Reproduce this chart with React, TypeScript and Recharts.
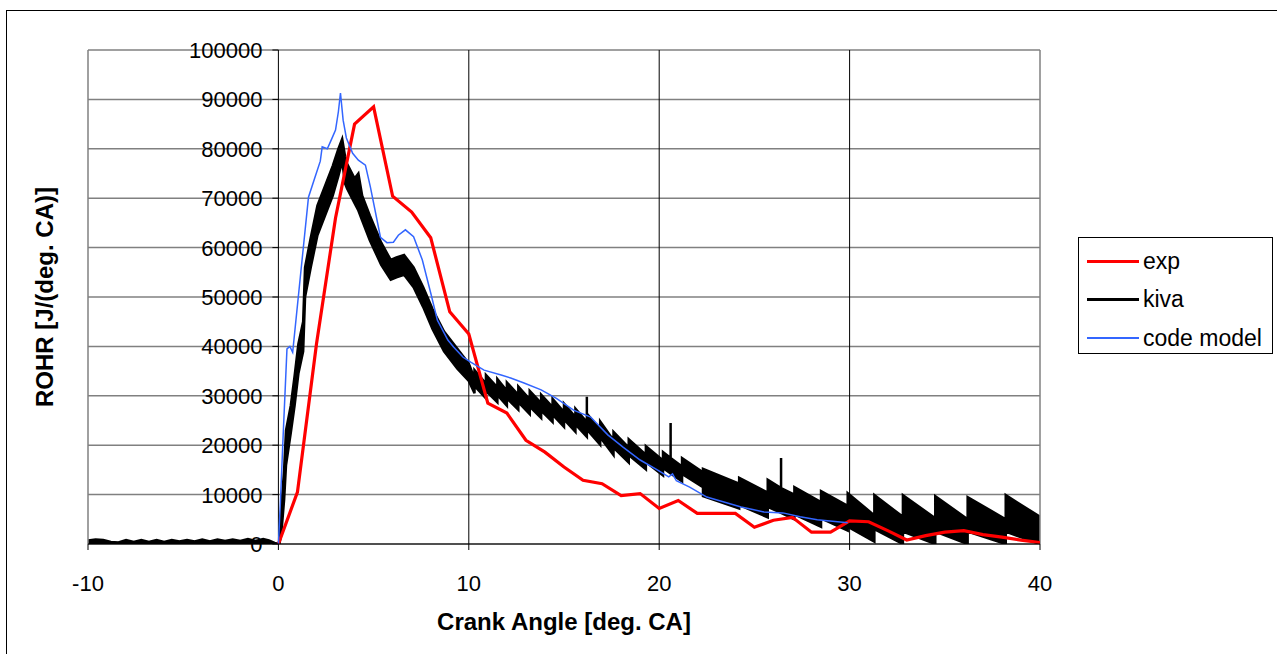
import { ComposedChart, Line, Area, XAxis, YAxis, CartesianGrid, ReferenceLine, Label } from 'recharts';

// crank angle ticks and ROHR ticks
const angleTicks = [-10, 0, 10, 20, 30, 40];
const rohrTicks = [0, 10000, 20000, 30000, 40000, 50000, 60000, 70000, 80000, 90000, 100000];

// exp: one point per degree CA
const expAngle = [
  0, 1, 2, 3, 4, 5, 6, 7, 8, 9, 10, 11, 12, 13, 14, 15, 16, 17, 18, 19, 20,
  21, 22, 23, 24, 25, 26, 27, 28, 29, 30, 31, 32, 33, 34, 35, 36, 37, 38, 39, 40,
];
const expRohr = [
  0, 10500, 40500, 66000, 85000, 88500, 70400, 67200, 62000, 47000, 42500,
  28500, 26500, 21000, 18600, 15600, 12900, 12200, 9800, 10200, 7200,
  8800, 6200, 6200, 6200, 3400, 4800, 5400, 2400, 2400, 4700,
  4500, 2700, 800, 1700, 2400, 2700, 1900, 1400, 800, 300,
];

// code model: [angle, rohr]
const modelPoints: [number, number][] = [
  [0, 0], [0.1, 8000], [0.25, 22000], [0.45, 39500], [0.6, 40000], [0.75, 38800],
  [1.15, 54000], [1.58, 70200], [1.9, 74000], [2.2, 77500], [2.3, 80400], [2.57, 80000],
  [2.8, 82000], [3.0, 83800], [3.15, 87500], [3.26, 91300], [3.4, 85800], [3.57, 82200],
  [3.9, 79100], [4.2, 77700], [4.57, 76700], [4.83, 72300], [5.36, 62100], [5.7, 61000],
  [6.04, 61100], [6.3, 62500], [6.67, 63600], [7.1, 62200], [7.56, 57500], [8.0, 50800],
  [8.35, 45300], [8.9, 41300], [9.2, 39900], [9.7, 37800], [10.1, 36800], [10.8, 35200],
  [11.7, 34200], [12.2, 33600], [12.9, 32600], [13.8, 31200], [14.6, 29500], [15.5, 27100],
  [16.4, 25700], [17.3, 22100], [18.1, 19600], [19.0, 17000], [19.9, 15000], [20.5, 13600],
  [20.7, 14200], [20.9, 12800], [21.6, 11500], [22.5, 9500], [23.4, 8500], [24.3, 7500],
  [25.5, 6500], [26.5, 6300], [27.4, 5500], [28.3, 4900], [29.9, 4300],
];

// kiva: noisy trace, kept as [angle, low, high] band
const kivaBand: [number, number, number][] = [
  [-10, 0, 700], [-9.6, 0, 900], [-9.2, 0, 800], [-8.8, 0, 400], [-8.4, 0, 300],
  [-8.0, 0, 800], [-7.6, 0, 400], [-7.2, 0, 800], [-6.8, 0, 400], [-6.4, 0, 800],
  [-6.0, 0, 400], [-5.6, 0, 800], [-5.2, 0, 500], [-4.8, 0, 800], [-4.4, 0, 500],
  [-4.0, 0, 900], [-3.6, 0, 500], [-3.2, 0, 900], [-2.8, 0, 600], [-2.4, 0, 900],
  [-2.0, 0, 600], [-1.6, 0, 1000], [-1.2, 0, 600], [-0.8, 0, 1000], [-0.5, 0, 700],
  [-0.2, 0, 200], [0, 0, 0],
  [0.05, 0, 0], [0.15, 2000, 7000], [0.3, 9000, 15000], [0.4, 16000, 23000],
  [0.65, 22500, 28000], [0.85, 28000, 34000], [1.05, 34500, 40500], [1.3, 39000, 45000],
  [1.4, 50000, 56000], [1.7, 56000, 62000], [2.05, 62500, 68500], [2.5, 67000, 73000],
  [2.85, 70500, 76500], [3.15, 74500, 80000], [3.35, 77500, 82000], [3.5, 73000, 78500],
  [3.6, 72000, 77000], [4.0, 69000, 74000], [4.2, 67500, 75000], [4.4, 65500, 70500],
  [4.8, 61500, 66500], [5.4, 56500, 61000], [5.9, 53500, 57500], [6.2, 54000, 58000],
  [6.6, 54500, 58500], [7.1, 52000, 56000], [7.6, 48000, 52000], [8.1, 43500, 47500],
  [8.7, 39000, 43000], [9.4, 35500, 39500], [10.0, 33000, 36500],
  [10.3, 30500, 33500], [10.3, 32000, 35200],
  [10.9, 29500, 32500], [10.9, 31000, 34200],
  [11.5, 28700, 31700], [11.5, 30200, 33400],
  [12.0, 28000, 31000], [12.0, 29500, 32700],
  [12.6, 27200, 30200], [12.6, 28700, 31900],
  [13.2, 26300, 29300], [13.2, 27800, 31000],
  [13.8, 25500, 28500], [13.8, 27000, 30200],
  [14.4, 24700, 27700], [14.4, 26200, 29400],
  [15.0, 23700, 26700], [15.0, 25200, 28400],
  [15.6, 22700, 25700], [15.6, 24200, 27400],
  [16.2, 21700, 24700], [16.2, 21700, 29800], [16.2, 23200, 26400],
  [16.9, 20100, 23100], [16.9, 21600, 24800],
  [17.6, 18000, 21000], [17.6, 19500, 22700],
  [18.4, 16500, 19500], [18.4, 18000, 21200],
  [19.3, 15100, 18100], [19.3, 16600, 19800],
  [20.2, 13900, 16900], [20.2, 15400, 18600],
  [20.6, 14300, 17400], [20.6, 14300, 24500], [20.6, 14300, 17400],
  [21.2, 12700, 15700], [21.2, 14200, 17400],
  [22.3, 11500, 14500], [22.3, 9700, 15200],
  [24.2, 7200, 12200], [24.2, 7900, 13400],
  [25.7, 5400, 10400], [25.7, 7500, 13000],
  [26.4, 6300, 11300], [26.4, 6300, 17400], [26.4, 6300, 11300],
  [27.1, 5000, 10000], [27.1, 6000, 11500],
  [28.5, 3500, 8500], [28.5, 5200, 10700],
  [29.9, 2700, 7700], [29.9, 3500, 10300],
  [31.3, 500, 5800], [31.3, 3000, 9900],
  [32.8, 0, 5500], [32.8, 2500, 9900],
  [34.5, 0, 5200], [34.5, 2500, 9700],
  [36.2, 0, 5000], [36.2, 2500, 9500],
  [38.2, 0, 5000], [38.2, 2500, 9900],
  [40, 0, 5500],
];

const series = [
  { name: 'exp', color: '#ff0000', width: 3 },
  { name: 'kiva', color: '#000000', width: 3 },
  { name: 'code model', color: '#3366ff', width: 1.5 },
];

const expData = expAngle.map((x, i) => ({ x, rohr: expRohr[i] }));
const modelData = modelPoints.map(([x, rohr]) => ({ x, rohr }));
const kivaData = kivaBand.map(([x, lo, hi]) => ({ x, band: [lo, hi] }));

const W = 1277;
const H = 654;
const PLOT_LEFT = 88;
const PLOT_RIGHT = 1040;
const PLOT_TOP = 50;
const PLOT_BOTTOM = 544;
const X_AXIS_H = 100;
// the value axis crosses at 0 deg CA
const AXIS_X = PLOT_LEFT + ((PLOT_RIGHT - PLOT_LEFT) * (0 - angleTicks[0])) / (angleTicks[angleTicks.length - 1] - angleTicks[0]);

const YTick = ({ y, payload }: any) => (
  <g>
    <line x1={AXIS_X - 6} x2={AXIS_X} y1={y} y2={y} stroke="#000" />
    <text x={AXIS_X - 16} y={y} dy="0.36em" textAnchor="end" fontSize={22} fill="#000">
      {payload.value}
    </text>
  </g>
);

export default function App() {
  return (
    <div
      style={{
        position: 'fixed',
        left: 0,
        top: 0,
        width: W,
        height: H,
        overflow: 'hidden',
        background: '#fff',
        fontFamily: '"Liberation Sans", Arial, sans-serif',
      }}
    >
      <div style={{ position: 'absolute', left: 6, top: 10, width: 1300, height: 700, border: '1px solid #000' }} />
      <div style={{ position: 'absolute', left: 0, top: 0 }}>
        <ComposedChart
          width={W}
          height={H}
          margin={{ top: PLOT_TOP, right: W - PLOT_RIGHT, left: 0, bottom: H - PLOT_BOTTOM - X_AXIS_H }}
        >
          <CartesianGrid vertical={false} stroke="#808080" strokeWidth={1.5} />
          <XAxis
            type="number"
            dataKey="x"
            domain={[angleTicks[0], angleTicks[angleTicks.length - 1]]}
            ticks={angleTicks}
            allowDataOverflow
            height={X_AXIS_H}
            stroke="#000"
            tickSize={6}
            tickMargin={25}
            tick={{ fill: '#000', fontSize: 22 }}
          >
            <Label
              value="Crank Angle [deg. CA]"
              position="insideBottom"
              offset={14}
              style={{ fontWeight: 'bold', fontSize: 24, fill: '#000' }}
            />
          </XAxis>
          <YAxis
            type="number"
            domain={[0, 100000]}
            ticks={rohrTicks}
            allowDataOverflow
            width={PLOT_LEFT}
            axisLine={false}
            tickLine={false}
            tick={YTick}
          >
            <Label
              value="ROHR [J/(deg. CA)]"
              angle={-90}
              position="center"
              style={{ fontWeight: 'bold', fontSize: 24, fill: '#000', textAnchor: 'middle' }}
            />
          </YAxis>
          <ReferenceLine x={angleTicks[0]} stroke="#808080" strokeWidth={1.5} />
          <ReferenceLine x={angleTicks[5]} stroke="#808080" strokeWidth={1.5} />
          <ReferenceLine x={angleTicks[2]} stroke="#000" />
          <ReferenceLine x={angleTicks[3]} stroke="#000" />
          <ReferenceLine x={angleTicks[4]} stroke="#000" />
          <ReferenceLine x={angleTicks[1]} stroke="#000" />
          <Line
            data={expData}
            dataKey="rohr"
            name={series[0].name}
            type="linear"
            stroke={series[0].color}
            strokeWidth={3.2}
            dot={false}
            isAnimationActive={false}
          />
          <Area
            data={kivaData}
            dataKey="band"
            name={series[1].name}
            type="linear"
            stroke={series[1].color}
            strokeWidth={2.5}
            fill={series[1].color}
            fillOpacity={1}
            dot={false}
            activeDot={false}
            isAnimationActive={false}
          />
          <Line
            data={modelData}
            dataKey="rohr"
            name={series[2].name}
            type="linear"
            stroke={series[2].color}
            strokeWidth={series[2].width}
            dot={false}
            isAnimationActive={false}
          />
        </ComposedChart>
      </div>
      <div
        style={{
          position: 'absolute',
          left: 1078,
          top: 237,
          width: 195,
          height: 117,
          border: '1px solid #000',
          background: '#fff',
          boxSizing: 'border-box',
        }}
      >
        {series.map((s, i) => (
          <div
            key={s.name}
            style={{
              position: 'absolute',
              left: 8,
              top: 4 + i * 38.5,
              height: 38,
              display: 'flex',
              alignItems: 'center',
            }}
          >
            <span style={{ display: 'inline-block', width: 52, height: s.width, background: s.color }} />
            <span style={{ marginLeft: 4, fontSize: 23, color: '#000', whiteSpace: 'nowrap' }}>{s.name}</span>
          </div>
        ))}
      </div>
    </div>
  );
}
